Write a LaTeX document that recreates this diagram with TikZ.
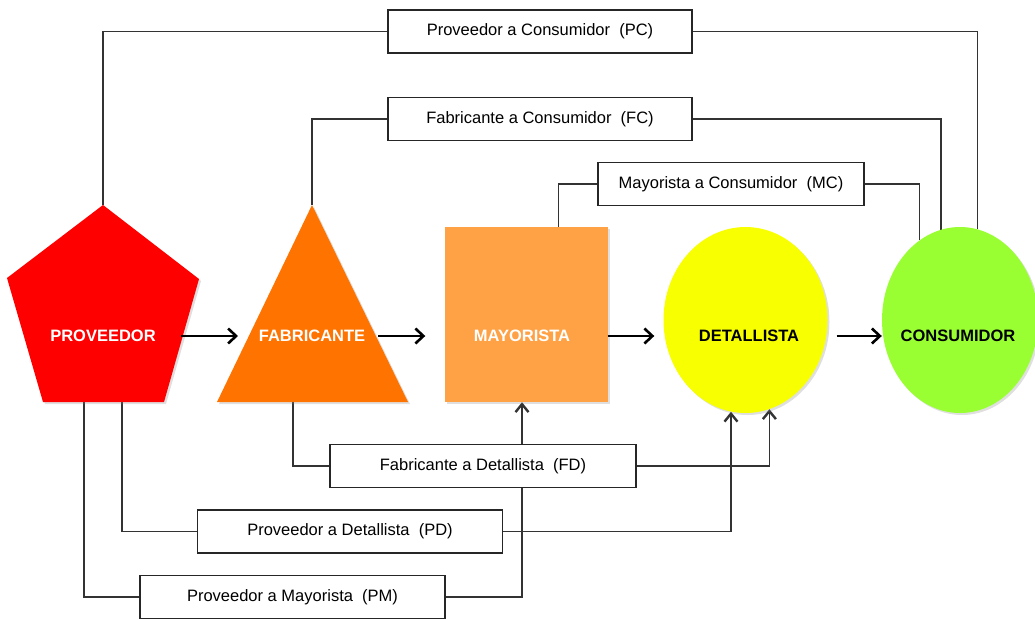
\documentclass[tikz,border=0pt]{standalone}
\usepackage{fontspec}
\setmainfont{Liberation Sans}
\usetikzlibrary{shapes.geometric,arrows.meta,calc,backgrounds,shadows}
\definecolor{provred}{HTML}{FF0000}
\definecolor{fabora}{HTML}{FF7400}
\definecolor{mayora}{HTML}{FFA245}
\definecolor{detyel}{HTML}{F8FF00}
\definecolor{congrn}{HTML}{99FF33}
\tikzstyle{actor}=[font=\fontsize{16.5}{19}\selectfont\bfseries, inner sep=1pt]
\tikzstyle{channel}=[rectangle, draw=black!85, fill=white, line width=1.3pt,
  minimum width=304pt, minimum height=43pt, font=\fontsize{16.5}{19}\selectfont]
\tikzstyle{link}=[draw=black!80, line width=1.5pt]
\tikzstyle{feed}=[-{Straight Barb[length=8pt,width=13pt,line width=2.4pt]}]
\tikzstyle{flow}=[line width=2.6pt, -{Straight Barb[length=8pt,width=15pt]}]
\tikzstyle{lift}=[drop shadow={opacity=0.25,shadow xshift=2pt,shadow yshift=-2pt}]

\begin{document}
\begin{tikzpicture}[x=1pt,y=-1pt]
  \useasboundingbox (0,0) rectangle (1035,619);
  % Proveedor
  \fill[provred, lift] (103,205) coordinate (provtop) -- (199,279) -- (164,402)
    -- (43,402) -- (7,278) -- cycle;
  \node[actor, white] (prov) at (103,336) {PROVEEDOR};
  \coordinate (provpm) at (84,402);
  \coordinate (provpd) at (122,402);
  % Fabricante
  \fill[fabora, lift] (312,205) coordinate (fabtop) -- (408,402) -- (217,402) -- cycle;
  \node[actor, white] (fab) at (312,336) {FABRICANTE};
  \coordinate (fabfd) at (293,402);
  % Mayorista
  \node[rectangle, fill=mayora, lift, minimum width=163pt, minimum height=175pt]
    (may) at (526,314.5) {};
  \node[actor, white] (maytxt) at (522,336) {MAYORISTA};
  % Detallista and Consumidor
  \node[ellipse, fill=detyel, lift, inner sep=0pt, minimum width=164pt, minimum height=186pt]
    (det) at (745.5,320) {};
  \node[actor] (dettxt) at (749,336) {DETALLISTA};
  \node[ellipse, fill=congrn, lift, inner sep=0pt, minimum width=156pt, minimum height=186pt]
    (cons) at (960,320) {};
  \node[actor] (constxt) at (958,336) {CONSUMIDOR};
  % channels
  \node[channel] (pc) at (540,31.5) {Proveedor a Consumidor\ \ (PC)};
  \node[channel] (fc) at (540,119) {Fabricante a Consumidor\ \ (FC)};
  \node[channel, minimum width=266pt] (mc) at (731,184) {Mayorista a Consumidor\ \ (MC)};
  \node[channel, minimum width=306pt] (fd) at (483,466) {Fabricante a Detallista\ \ (FD)};
  \node[channel, minimum width=305pt] (pd) at (350,531.5) {Proveedor a Detallista\ \ (PD)};
  \node[channel, minimum width=305pt] (pm) at (292.5,597) {Proveedor a Mayorista\ \ (PM)};
  % main flow
  \coordinate (provout) at (181,336);
  \coordinate (fabin) at (238,336);
  \coordinate (fabout) at (378,336);
  \draw[flow] (provout) -- (fabin);
  \draw[flow] (fabout) -- ($(may.west |- fabout)+(-19,0)$);
  \draw[flow] (may.east |- maytxt) -- ($(det.west |- dettxt)+(-9,0)$);
  \draw[flow] ($(det.east |- dettxt)+(9,0)$) -- (cons.west |- constxt);
  % lines
  \begin{scope}[on background layer]
    \draw[link] (provtop) |- (pc.west);
    \draw[link] (pc.east) -| (cons.79);
    \draw[link] (fabtop) |- (fc.west);
    \draw[link] (fc.east) -| (cons.102);
    \draw[link] ($(may.north west)!0.7!(may.north east)$) |- (mc.west);
    \draw[link] (mc.east) -| (cons.117);
    \draw[link] (fabfd) |- (fd.west);
    \draw[link, feed] (fd.east) -| (det.-75);
    \draw[link] (provpd) |- (pd.west);
    \draw[link, feed] (pd.east) -| (det.-99);
    \draw[link] (provpm) |- (pm.west);
    \draw[link, feed] (pm.east) -| ($(may.south)+(-4,0)$);
  \end{scope}
\end{tikzpicture}
\end{document}
